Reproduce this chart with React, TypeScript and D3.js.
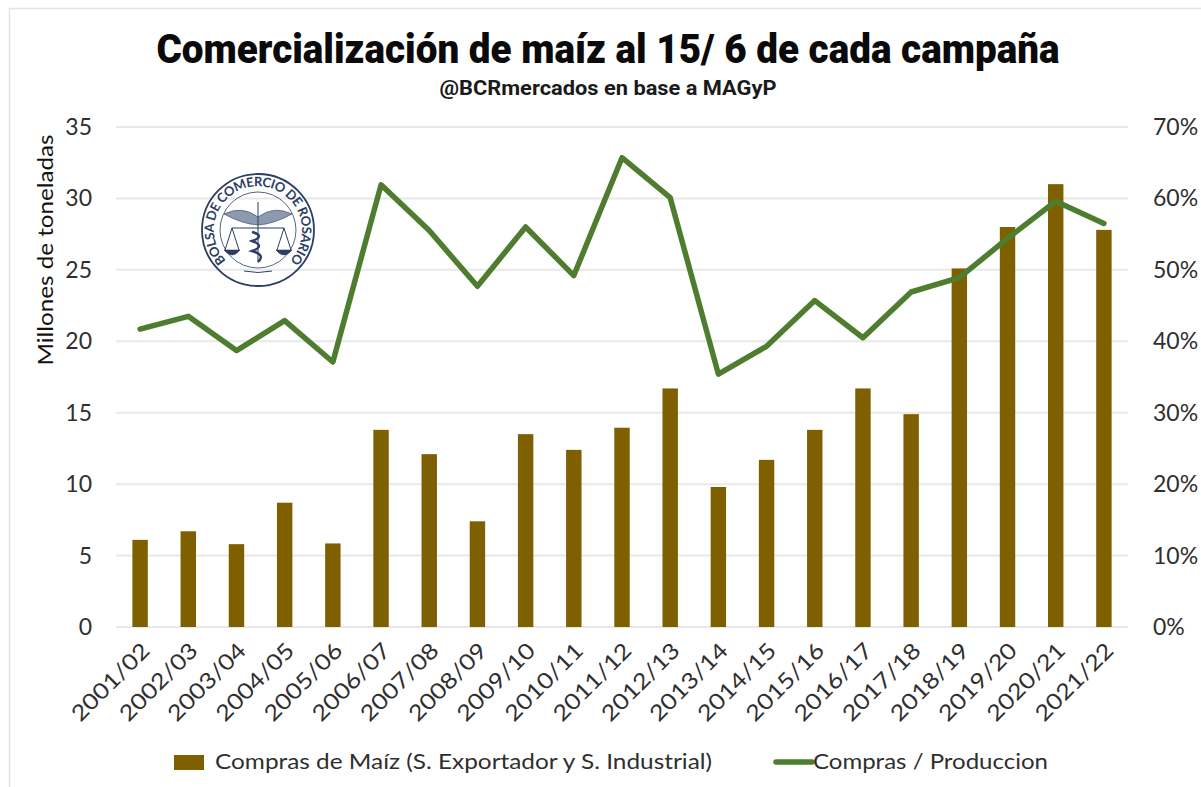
import React from "react";
import * as d3 from "d3";

const categories = ["2001/02","2002/03","2003/04","2004/05","2005/06","2006/07","2007/08","2008/09","2009/10","2010/11","2011/12","2012/13","2013/14","2014/15","2015/16","2016/17","2017/18","2018/19","2019/20","2020/21","2021/22"];
const compras = [6.1,6.7,5.8,8.7,5.85,13.8,12.1,7.4,13.5,12.4,13.95,16.7,9.8,11.7,13.8,16.7,14.9,25.1,28.0,31.0,27.8];
const ratio = [41.7,43.5,38.7,42.9,37.1,61.9,55.5,47.7,56.0,49.2,65.7,60.1,35.4,39.3,45.7,40.5,46.9,48.9,54.4,59.6,56.5];
const leftTicks = [0,5,10,15,20,25,30,35];
const rightTicks = [0,10,20,30,40,50,60,70];

const brown = "#7f6000";
const green = "#4e7d2f";
const ink = "#2f2f2f";
const navy = "#2c3e63";
const font = "Lato, sans-serif";

const x = d3.scaleBand<string>().domain(categories).range([116, 1128]).paddingInner(0.68).paddingOuter(0.34);
const yL = d3.scaleLinear().domain([0, 35]).range([627, 127]);
const yR = d3.scaleLinear().domain([0, 70]).range([627, 127]);
const cx = (c: string) => (x(c) as number) + x.bandwidth() / 2;
const line = d3.line<number>().x((_, i) => cx(categories[i])).y((d) => yR(d));

function Logo() {
  return (
    <g transform="translate(258,230)" fill="none" stroke={navy}>
      <circle r={56} strokeWidth={1.8} />
      <circle r={38} strokeWidth={0.8} />
      <path id="logoArc" d="M -27 35 A 44 44 0 1 1 27 35" stroke="none" />
      <text fontFamily={font} fontSize={13} fontWeight={700} fill={navy} stroke="none">
        <textPath href="#logoArc" startOffset="50%" textAnchor="middle" textLength={205} lengthAdjust="spacing">BOLSA DE COMERCIO DE ROSARIO</textPath>
      </text>
      <path d="M -34 -16 Q -16 -25 0 -13 Q 16 -25 34 -16 Q 16 -6 0 -5 Q -16 -6 -34 -16 Z" fill="#8d99ae" strokeWidth={0.6} />
      <path d="M 0 -28 V 32 M -26 -2 H 26 M -26 -2 L -33 20 M -26 -2 L -19 20 M 26 -2 L 19 20 M 26 -2 L 33 20" strokeWidth={1} />
      <path d="M -34 20 H -18 Q -26 30 -34 20 Z M 18 20 H 34 Q 26 30 18 20 Z" fill={navy} strokeWidth={0.6} />
      <path d="M -6 2 Q 8 6 -6 11 Q 8 16 -6 21 Q 8 25 0 32" strokeWidth={2.4} />
      <path d="M -14 41 Q 0 44 14 41" strokeWidth={1} />
    </g>
  );
}

export default function App() {
  return (
    <svg width={1201} height={787} style={{ position: "absolute", left: 0, top: 0, background: "#fff" }}>
      <path d="M 9.5 787 V 8.5 H 1201" fill="none" stroke="#e4e4e4" strokeWidth={1.5} />
      <text x={608} y={63} textAnchor="middle" fontFamily="Roboto, sans-serif" fontWeight={900} fontSize={41} fill="#0a0a0a" textLength={903} lengthAdjust="spacingAndGlyphs">Comercialización de maíz al 15/ 6 de cada campaña</text>
      <text x={608} y={95} textAnchor="middle" fontFamily="Roboto, sans-serif" fontWeight={700} fontSize={21} fill="#1a1a1a" textLength={337} lengthAdjust="spacingAndGlyphs">@BCRmercados en base a MAGyP</text>

      {leftTicks.map((t) => (
        <line key={t} x1={116} x2={1128} y1={yL(t)} y2={yL(t)} stroke="#e8e8e8" strokeWidth={2} />
      ))}
      {leftTicks.map((t) => (
        <text key={t} x={92} y={yL(t) + 8} textAnchor="end" fontFamily={font} fontSize={23} fill={ink}>{t}</text>
      ))}
      {rightTicks.map((t) => (
        <text key={t} x={1153} y={yR(t) + 8} fontFamily={font} fontSize={23} fill={ink}>{t}%</text>
      ))}
      <text transform="translate(53,250) rotate(-90)" textAnchor="middle" fontFamily={font} fontSize={21} fill="#111" textLength={231} lengthAdjust="spacingAndGlyphs">Millones de toneladas</text>

      <Logo />

      {categories.map((c, i) => (
        <rect key={c} x={x(c)} y={yL(compras[i])} width={x.bandwidth()} height={yL(0) - yL(compras[i])} fill={brown} />
      ))}
      <path d={line(ratio) as string} fill="none" stroke={green} strokeWidth={5.5} strokeLinejoin="round" strokeLinecap="round" />

      {categories.map((c) => (
        <text key={c} transform={`translate(${cx(c) + 11},${652}) rotate(-45)`} textAnchor="end" fontFamily={font} fontSize={22} fill={ink} textLength={100} lengthAdjust="spacingAndGlyphs">{c}</text>
      ))}

      <rect x={174} y={755} width={30} height={15} fill={brown} />
      <text x={215} y={769} fontFamily={font} fontSize={22} fill={ink} textLength={497} lengthAdjust="spacingAndGlyphs">Compras de Maíz (S. Exportador y S. Industrial)</text>
      <line x1={776} x2={812} y1={762} y2={762} stroke={green} strokeWidth={5.5} strokeLinecap="round" />
      <text x={813} y={769} fontFamily={font} fontSize={22} fill={ink} textLength={235} lengthAdjust="spacingAndGlyphs">Compras / Produccion</text>
    </svg>
  );
}
